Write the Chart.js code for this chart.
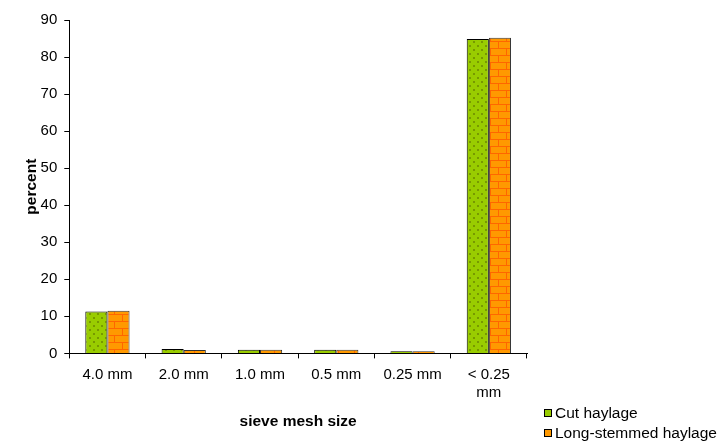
<!DOCTYPE html>
<html>
<head>
<meta charset="utf-8">
<script src="https://cdn.jsdelivr.net/npm/chart.js@4.4.1/dist/chart.umd.min.js"></script>
<style>
	body{margin:0;background:#fff;font-family:"Liberation Sans",Arial,sans-serif;}
	.wrap{position:relative;width:719px;height:443px;}
	.legend{position:absolute;left:544px;top:403px;font-size:15.5px;color:#000;}
	.legend div{height:20px;display:flex;align-items:center;white-space:nowrap;}
	.legend span.sw{display:inline-block;width:6px;height:6px;border:1px solid #000;margin-right:3px;}
</style>
</head>
<body>
<div class="wrap">
	<canvas id="chart" width="719" height="443"></canvas>
	<div class="legend">
		<div><span class="sw" style="background:#99CC00"></span>Cut haylage</div>
		<div><span class="sw" style="background:#FF9900"></span>Long-stemmed haylage</div>
	</div>
</div>
<script>
const categories = ["4.0 mm", "2.0 mm", "1.0 mm", "0.5 mm", "0.25 mm", ["< 0.25", "mm"]];
const cutHaylage = [11.3, 1.2, 1.0, 1.0, 0.6, 84.9];
const longStemmed = [11.5, 0.9, 1.0, 1.0, 0.6, 85.2];
const yTicks = [0, 10, 20, 30, 40, 50, 60, 70, 80, 90];

function dotPattern(){
	const c = document.createElement("canvas");
	c.width = 8; c.height = 8;
	const g = c.getContext("2d");
	g.fillStyle = "#99CC00";
	g.fillRect(0, 0, 8, 8);
	g.fillStyle = "#779900";
	g.fillRect(1, 1, 2, 2);
	g.fillRect(5, 5, 2, 2);
	return g.createPattern(c, "repeat");
}

function brickPattern(){
	const c = document.createElement("canvas");
	c.width = 16; c.height = 14;
	const g = c.getContext("2d");
	g.fillStyle = "#FF9900";
	g.fillRect(0, 0, 16, 14);
	g.fillStyle = "#FF6600";
	g.fillRect(0, 6, 16, 1);
	g.fillRect(0, 13, 16, 1);
	g.fillRect(2, 0, 1, 7);
	g.fillRect(10, 7, 1, 7);
	return g.createPattern(c, "repeat");
}

const tickFont = {size: 15, family: "Liberation Sans"};
const titleFont = {size: 15.5, weight: "bold", family: "Liberation Sans"};

const ctx = document.getElementById("chart").getContext("2d");
new Chart(ctx, {
	type: "bar",
	data: {
		labels: categories,
		datasets: [{
			label: "Cut haylage",
			data: cutHaylage,
			backgroundColor: dotPattern(),
			borderColor: "#000",
			borderWidth: 1,
			borderSkipped: "bottom"
		}, {
			label: "Long-stemmed haylage",
			data: longStemmed,
			backgroundColor: brickPattern(),
			borderColor: "#333",
			borderWidth: 1,
			borderSkipped: "bottom"
		}]
	},
	options: {
		responsive: false,
		animation: false,
		datasets: {bar: {barPercentage: 1, categoryPercentage: 0.58}},
		layout: {padding: {left: 22, right: 192, top: 20, bottom: 12}},
		plugins: {legend: {display: false}, tooltip: {enabled: false}},
		scales: {
			x: {
				grid: {drawOnChartArea: false, color: "#000", tickLength: 5},
				border: {color: "#000"},
				ticks: {color: "#000", font: tickFont, maxRotation: 0, padding: 7},
				title: {display: true, text: "sieve mesh size", color: "#000", font: titleFont, padding: {top: 4, bottom: 0}}
			},
			y: {
				min: 0, max: 90,
				afterBuildTicks: axis => { axis.ticks = yTicks.map(v => ({value: v})); },
				grid: {drawOnChartArea: false, color: "#000", tickLength: 5},
				border: {color: "#000"},
				ticks: {color: "#000", font: tickFont, padding: 7},
				title: {display: true, text: "percent", color: "#000", font: titleFont, padding: {top: 0, bottom: -7}}
			}
		}
	}
});
</script>
</body>
</html>
